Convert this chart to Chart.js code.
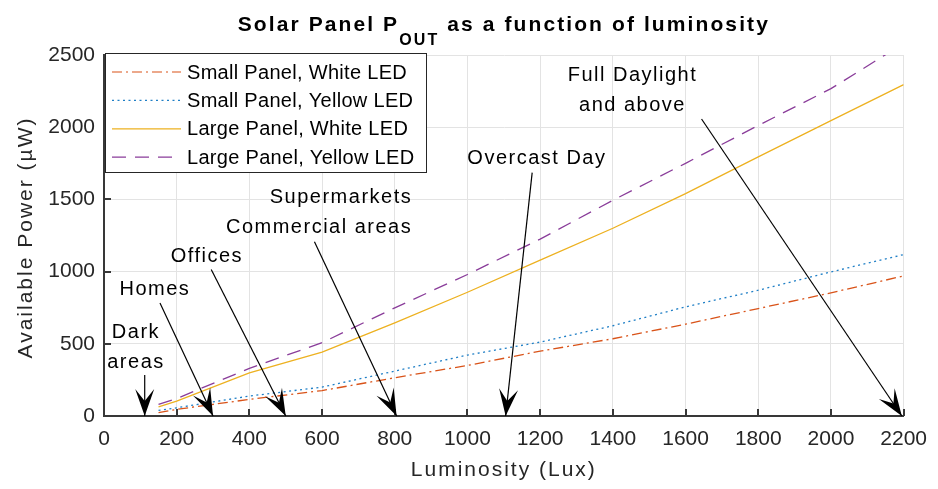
<!DOCTYPE html>
<html>
<head>
<meta charset="utf-8">
<script src="https://cdn.jsdelivr.net/npm/chart.js@4"></script>
<style>
  html, body { margin: 0; padding: 0; background: #fff; }
  #wrap { width: 938px; height: 489px; position: relative; }
</style>
</head>
<body>
<div id="wrap"><canvas id="solarChart"></canvas></div>
<script>
// Luminosity sample points (lux) and measured power (uW)
const luxPoints = [150, 200, 400, 600, 800, 1000, 1200, 1400, 1600, 1800, 2000, 2200];
const smallWhite = [23, 46, 115, 176, 265, 350, 449, 535, 636, 744, 853, 970];
const smallYellow = [39, 57, 138, 200, 311, 422, 512, 625, 756, 871, 998, 1118];
const largeWhite = [64, 103, 298, 442, 645, 857, 1080, 1300, 1540, 1795, 2045, 2295];
const largeYellow = [80, 121, 330, 508, 749, 980, 1225, 1494, 1750, 2012, 2267, 2580];

const seriesLabels = ['Small Panel, White LED', 'Small Panel, Yellow LED', 'Large Panel, White LED', 'Large Panel, Yellow LED'];

// Lighting condition notes (data coordinates: lux, uW)
const noteLines = [['Dark', 'areas'], ['Homes'], ['Offices'], ['Supermarkets', 'Commercial areas'], ['Overcast Day'], ['Full Daylight', 'and above']];
const noteAnchor = [[88, 575], [140, 873], [283, 1108], [848, 1510], [1191, 1785], [1454, 2355]];
const noteAlign = ['center', 'center', 'center', 'right', 'center', 'center'];
const arrowFrom = [[112, 284], [154, 782], [295, 1015], [579, 1207], [1178, 1685], [1644, 2057]];
const arrowTo = [[112, 0], [300, 0], [500, 0], [805, 0], [1105, 0], [2195, 0]];

const FONT = '"Liberation Sans", Arial, sans-serif';
const AXIS_COLOR = '#383838';

const toXY = (ys) => luxPoints.map((x, i) => ({ x: x, y: ys[i] }));

const styles = [
    { color: '#D95319', dash: [10, 4, 2, 4] },
    { color: '#1f7fc6', dash: [2, 3.5] },
    { color: '#EDB120', dash: [] },
    { color: '#8a3d9a', dash: [14, 9] }
];

function drawArrowHead(ctx, x0, y0, x1, y1) {
    const ang = Math.atan2(y1 - y0, x1 - x0);
    const len = 27, half = 9.5, notch = 15;
    ctx.save();
    ctx.translate(x1, y1);
    ctx.rotate(ang);
    ctx.beginPath();
    ctx.moveTo(0, 0);
    ctx.lineTo(-len, -half);
    ctx.lineTo(-notch, 0);
    ctx.lineTo(-len, half);
    ctx.closePath();
    ctx.fillStyle = '#000';
    ctx.fill();
    ctx.restore();
}

const decorPlugin = {
    id: 'decor',
    afterDraw(chart) {
        const ctx = chart.ctx;
        const xs = chart.scales.x, ys = chart.scales.y;
        const area = chart.chartArea;

        // inward tick marks
        ctx.save();
        ctx.strokeStyle = AXIS_COLOR;
        ctx.lineWidth = 2;
        ctx.beginPath();
        xs.ticks.forEach(t => {
            const px = Math.round(xs.getPixelForValue(t.value));
            ctx.moveTo(px, area.bottom);
            ctx.lineTo(px, area.bottom - 7);
        });
        ys.ticks.forEach(t => {
            const py = Math.round(ys.getPixelForValue(t.value));
            ctx.moveTo(area.left, py);
            ctx.lineTo(area.left + 7, py);
        });
        ctx.stroke();
        ctx.restore();

        // annotation arrows
        ctx.save();
        ctx.strokeStyle = '#000';
        ctx.lineWidth = 1.2;
        arrowFrom.forEach((from, i) => {
            const x0 = xs.getPixelForValue(from[0]), y0 = ys.getPixelForValue(from[1]);
            const x1 = xs.getPixelForValue(arrowTo[i][0]), y1 = ys.getPixelForValue(arrowTo[i][1]);
            ctx.beginPath();
            ctx.moveTo(x0, y0);
            ctx.lineTo(x1, y1);
            ctx.stroke();
            drawArrowHead(ctx, x0, y0, x1, y1);
        });
        ctx.restore();

        // annotation text
        ctx.save();
        ctx.fillStyle = '#000';
        ctx.font = '20px ' + FONT;
        ctx.letterSpacing = '1.5px';
        ctx.textBaseline = 'middle';
        noteLines.forEach((lines, i) => {
            const px = xs.getPixelForValue(noteAnchor[i][0]);
            const py = ys.getPixelForValue(noteAnchor[i][1]);
            ctx.textAlign = noteAlign[i];
            lines.forEach((ln, k) => ctx.fillText(ln, px, py + k * 29.5));
        });
        ctx.restore();

        // legend box
        ctx.save();
        const lx = area.left + 1, ly = area.top - 2, lw = 321, lh = 119;
        ctx.fillStyle = '#fff';
        ctx.fillRect(lx, ly, lw, lh);
        ctx.strokeStyle = '#262626';
        ctx.lineWidth = 1;
        ctx.strokeRect(lx + 0.5, ly + 0.5, lw, lh);
        ctx.font = '20px ' + FONT;
        ctx.letterSpacing = '0.3px';
        ctx.textBaseline = 'middle';
        ctx.textAlign = 'left';
        chart.data.datasets.forEach((ds, i) => {
            const rowY = ly + 19 + i * 28.4;
            ctx.strokeStyle = ds.borderColor;
            ctx.lineWidth = 1.2;
            ctx.setLineDash(ds.borderDash || []);
            ctx.beginPath();
            ctx.moveTo(lx + 7, rowY);
            ctx.lineTo(lx + 76, rowY);
            ctx.stroke();
            ctx.setLineDash([]);
            ctx.fillStyle = '#000';
            ctx.fillText(ds.label, lx + 82, rowY + 1);
        });
        ctx.restore();

        // title with subscript
        ctx.save();
        ctx.fillStyle = '#000';
        ctx.letterSpacing = '2.1px';
        ctx.textBaseline = 'alphabetic';
        ctx.textAlign = 'left';
        const part1 = 'Solar Panel P', sub = 'OUT', part2 = ' as a function of luminosity';
        ctx.font = 'bold 21px ' + FONT;
        const w1 = ctx.measureText(part1).width, w3 = ctx.measureText(part2).width;
        ctx.font = 'bold 16px ' + FONT;
        const w2 = ctx.measureText(sub).width;
        let tx = (area.left + area.right) / 2 - (w1 + w2 + w3) / 2;
        ctx.font = 'bold 21px ' + FONT;
        ctx.fillText(part1, tx, 31);
        ctx.font = 'bold 16px ' + FONT;
        ctx.fillText(sub, tx + w1, 45);
        ctx.font = 'bold 21px ' + FONT;
        ctx.fillText(part2, tx + w1 + w2, 31);
        ctx.restore();

        // axis titles
        ctx.save();
        ctx.fillStyle = '#262626';
        ctx.font = '21px ' + FONT;
        ctx.letterSpacing = '2px';
        ctx.textAlign = 'center';
        ctx.textBaseline = 'alphabetic';
        ctx.fillText('Luminosity (Lux)', (area.left + area.right) / 2, 476);
        ctx.translate(32, (area.top + area.bottom) / 2 + 2);
        ctx.rotate(-Math.PI / 2);
        ctx.fillText('Available Power (\u00B5W)', 0, 0);
        ctx.restore();
    }
};

new Chart(document.getElementById('solarChart').getContext('2d'), {
    type: 'line',
    data: {
        datasets: [smallWhite, smallYellow, largeWhite, largeYellow].map((ys, i) => ({
            label: seriesLabels[i],
            data: toXY(ys),
            borderColor: styles[i].color,
            borderDash: styles[i].dash,
            borderWidth: 1.3,
            pointRadius: 0,
            tension: 0,
            fill: false
        }))
    },
    options: {
        responsive: true,
        maintainAspectRatio: false,
        animation: false,
        layout: { padding: { left: 0, top: 55, right: 32, bottom: 0 } },
        plugins: { legend: { display: false }, tooltip: { enabled: false }, title: { display: false } },
        scales: {
            x: {
                type: 'linear', min: 0, max: 2200,
                afterFit: (s) => { s.height = 73; },
                ticks: { stepSize: 200, color: '#262626', padding: 11, font: { family: FONT, size: 21 }, callback: (v) => String(v) },
                grid: { color: '#e3e3e3', drawTicks: false, lineWidth: 1 },
                border: { color: AXIS_COLOR, width: 2 }
            },
            y: {
                min: 0, max: 2500,
                afterFit: (s) => { s.width = 104; },
                ticks: { stepSize: 500, color: '#262626', padding: 9, font: { family: FONT, size: 21 }, callback: (v) => String(v) },
                grid: { color: '#e3e3e3', drawTicks: false, lineWidth: 1 },
                border: { color: AXIS_COLOR, width: 2 }
            }
        }
    },
    plugins: [decorPlugin]
});
</script>
</body>
</html>
